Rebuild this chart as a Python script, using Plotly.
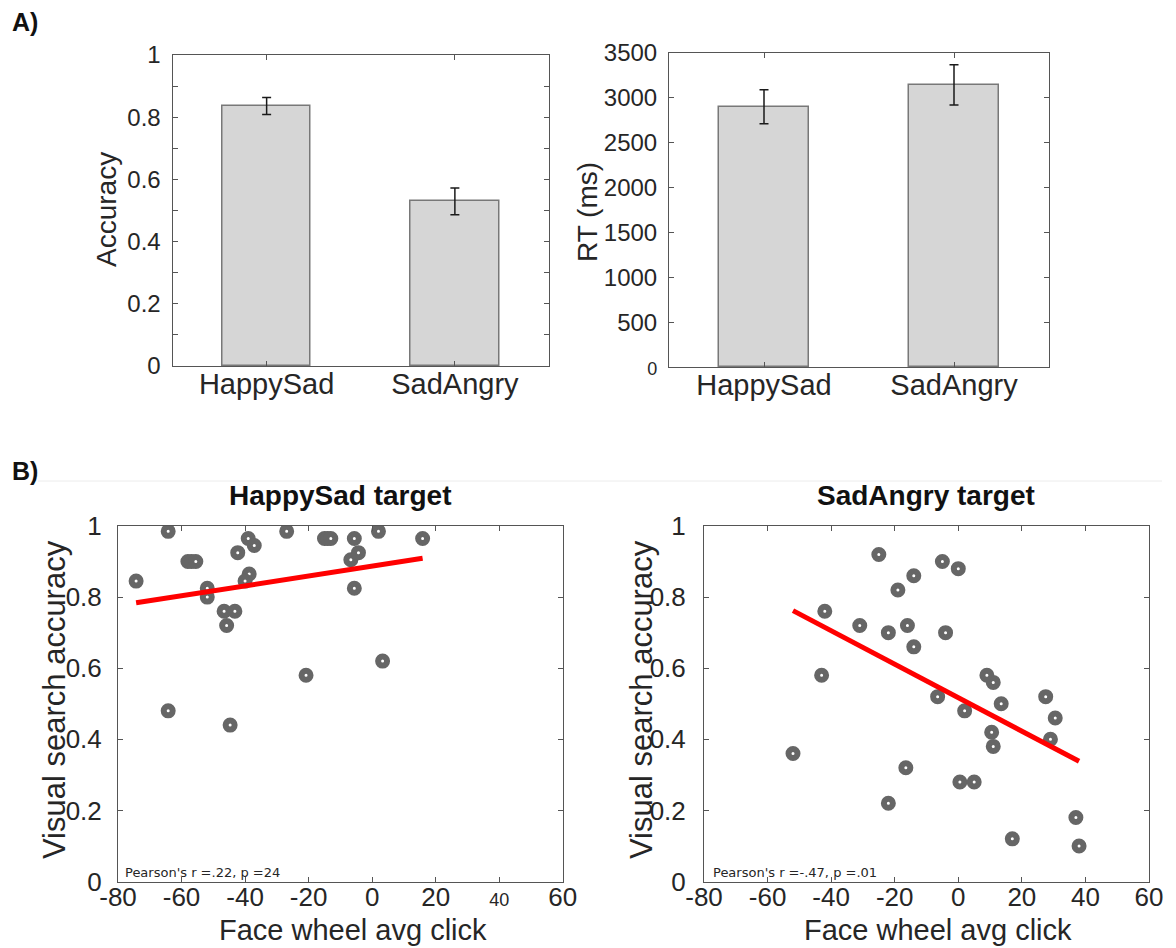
import plotly.graph_objects as go

# ---- data -------------------------------------------------------------
conditions = ["HappySad", "SadAngry"]
accuracy_mean = [0.836, 0.529]
accuracy_err = [0.027, 0.043]
rt_mean = [2900, 3145]
rt_err = [190, 225]

# HappySad target: face wheel avg click vs visual search accuracy
hs_click = [-74.3, -64.2, -58.0, -56.8, -55.5, -51.9, -51.9, -46.6, -43.2, -45.8,
            -44.7, -42.3, -39.0, -37.1, -38.7, -40.0, -64.2, -26.9, -20.8, -15.0,
            -14.0, -13.0, -6.7, -5.6, -4.3, -5.6, 2.0, 3.3, 15.9]
hs_acc = [0.845, 0.985, 0.90, 0.90, 0.90, 0.825, 0.80, 0.76, 0.76, 0.72,
          0.44, 0.925, 0.965, 0.945, 0.865, 0.845, 0.48, 0.985, 0.58, 0.965,
          0.965, 0.965, 0.905, 0.965, 0.925, 0.825, 0.985, 0.62, 0.965]
hs_fit = {"intercept": 0.887, "slope": 0.001385}
hs_stats = "Pearson's r =.22, p =24"

# SadAngry target
sa_click = [-52.0, -43.0, -42.0, -31.0, -25.0, -22.0, -22.0, -19.0, -16.5, -16.0,
            -14.0, -14.0, -6.5, -5.0, -4.0, 0.0, 0.5, 2.0, 5.0, 9.0,
            10.5, 11.0, 11.0, 13.5, 17.0, 27.5, 29.0, 30.5, 37.0, 38.0]
sa_acc = [0.36, 0.58, 0.76, 0.72, 0.92, 0.70, 0.22, 0.82, 0.32, 0.72,
          0.86, 0.66, 0.52, 0.90, 0.70, 0.88, 0.28, 0.48, 0.28, 0.58,
          0.42, 0.56, 0.38, 0.50, 0.12, 0.52, 0.40, 0.46, 0.18, 0.10]
sa_fit = {"intercept": 0.517, "slope": -0.00471}
sa_stats = "Pearson's r =-.47, p =.01"

click_ticks = [-80, -60, -40, -20, 0, 20, 40, 60]
acc_ticks = [0, 0.2, 0.4, 0.6, 0.8, 1]
rt_ticks = [0, 500, 1000, 1500, 2000, 2500, 3000, 3500]

# ---- styling ----------------------------------------------------------
W, H = 1176, 948
FONT = "Liberation Sans, Arial, Helvetica, sans-serif"
AXIS_COL = "#555555"
TEXT_COL = "#262626"
BAR_FILL = "#d6d6d6"
BAR_EDGE = "#787878"
DOT_COL = "#666666"


def px_x(v):
    return v / W


def px_y(v):
    return 1 - v / H


def box_axis(domain, **kw):
    base = dict(domain=domain, showline=True, linecolor=AXIS_COL, linewidth=1,
                mirror="ticks", ticks="inside", ticklen=5, tickcolor=AXIS_COL,
                showgrid=False, zeroline=False, automargin=False,
                tickfont=dict(family=FONT, size=24, color=TEXT_COL))
    base.update(kw)
    return base


def fmt(v):
    return f"{v:g}"


fig = go.Figure()

# ---- A) bar charts ----------------------------------------------------
for vals, errs, xa, ya in [(accuracy_mean, accuracy_err, "x", "y"),
                           (rt_mean, rt_err, "x2", "y2")]:
    fig.add_trace(go.Bar(
        x=[1, 2], y=vals, width=0.47, xaxis=xa, yaxis=ya,
        marker=dict(color=BAR_FILL, line=dict(color=BAR_EDGE, width=1.5)),
        error_y=dict(type="data", array=errs, color="#1a1a1a", thickness=1.5, width=4.5),
        showlegend=False, hoverinfo="skip"))

# ---- B) scatter panels ------------------------------------------------
for xs, ys, fit, xa, ya in [(hs_click, hs_acc, hs_fit, "x3", "y3"),
                            (sa_click, sa_acc, sa_fit, "x4", "y4")]:
    fig.add_trace(go.Scatter(
        x=xs, y=ys, mode="markers", xaxis=xa, yaxis=ya,
        marker=dict(symbol="circle", size=9, color="white",
                    line=dict(color=DOT_COL, width=6)),
        showlegend=False, hoverinfo="skip"))
    x0, x1 = min(xs), max(xs)
    fig.add_trace(go.Scatter(
        x=[x0, x1], y=[fit["intercept"] + fit["slope"] * x0,
                       fit["intercept"] + fit["slope"] * x1],
        mode="lines", xaxis=xa, yaxis=ya,
        line=dict(color="#ff0000", width=5),
        showlegend=False, hoverinfo="skip"))


def small(t):
    return f"<span style='font-size:18px'>{t}</span>"


layout = dict(
    width=W, height=H, margin=dict(l=0, r=0, t=0, b=0),
    paper_bgcolor="white", plot_bgcolor="white",
    font=dict(family=FONT, color=TEXT_COL),
    bargap=0,
    # top-left: accuracy
    xaxis=box_axis([px_x(172.5), px_x(549)], anchor="y", range=[0.5, 2.5],
                   tickvals=[1, 2], ticktext=conditions, ticklabelstandoff=-8,
                   tickfont=dict(family=FONT, size=29, color=TEXT_COL)),
    yaxis=box_axis([px_y(366), px_y(55)], anchor="x", range=[0, 1],
                   tickvals=acc_ticks, ticktext=[fmt(t) for t in acc_ticks],
                   minor=dict(dtick=0.1, ticks="inside", ticklen=5, tickcolor=AXIS_COL),
                   ticklabelstandoff=6),
    # top-right: RT
    xaxis2=box_axis([px_x(669), px_x(1049)], anchor="y2", range=[0.5, 2.5],
                    tickvals=[1, 2], ticktext=conditions, ticklabelstandoff=-8,
                    tickfont=dict(family=FONT, size=29, color=TEXT_COL)),
    yaxis2=box_axis([px_y(367), px_y(53)], anchor="x2", range=[0, 3500],
                    tickvals=rt_ticks,
                    ticktext=[small(fmt(t)) if t == 0 else fmt(t) for t in rt_ticks],
                    ticklabelstandoff=6),
    # bottom-left: HappySad target
    xaxis3=box_axis([px_x(118), px_x(562.7)], anchor="y3", range=[-80, 60],
                    tickvals=click_ticks, ticklabelstandoff=-8,
                    ticktext=[small(fmt(t)) if t == 40 else fmt(t) for t in click_ticks],
                    tickfont=dict(family=FONT, size=26, color=TEXT_COL)),
    yaxis3=box_axis([px_y(881.5), px_y(526)], anchor="x3", range=[0, 1],
                    tickvals=acc_ticks, ticktext=[fmt(t) for t in acc_ticks],
                    tickfont=dict(family=FONT, size=26, color=TEXT_COL),
                    ticklabelstandoff=10),
    # bottom-right: SadAngry target
    xaxis4=box_axis([px_x(704), px_x(1149)], anchor="y4", range=[-80, 60],
                    tickvals=click_ticks, ticktext=[fmt(t) for t in click_ticks],
                    ticklabelstandoff=-8,
                    tickfont=dict(family=FONT, size=26, color=TEXT_COL)),
    yaxis4=box_axis([px_y(881.5), px_y(526)], anchor="x4", range=[0, 1],
                    tickvals=acc_ticks, ticktext=[fmt(t) for t in acc_ticks],
                    tickfont=dict(family=FONT, size=26, color=TEXT_COL),
                    ticklabelstandoff=12),
)
fig.update_layout(**layout)


def label(text, x, y, size, angle=0, bold=False, xanchor="center", font=FONT):
    fig.add_annotation(
        text=f"<b>{text}</b>" if bold else text,
        x=px_x(x), y=px_y(y), xref="paper", yref="paper",
        xanchor=xanchor, yanchor="middle", textangle=angle, showarrow=False,
        font=dict(family=font, size=size, color="#111111" if bold else TEXT_COL))


# panel letters
label("A)", 10, 22, 25, bold=True, xanchor="left")
label("B)", 10, 471, 25, bold=True, xanchor="left")

# axis titles
label("Accuracy", 107, 210, 28, angle=-90)
label("RT (ms)", 588, 212, 28, angle=-90)
label("Visual search accuracy", 54, 700, 31, angle=-90)
label("Visual search accuracy", 641, 700, 31, angle=-90)
label("Face wheel avg click", 353, 930, 29)
label("Face wheel avg click", 938, 930, 29)

# scatter titles
label("HappySad target", 340, 495, 28, bold=True)
label("SadAngry target", 926, 495, 28, bold=True)

# correlation notes
label(hs_stats, 123, 872, 13, xanchor="left", font="DejaVu Sans, sans-serif")
label(sa_stats, 711, 872, 13, xanchor="left", font="DejaVu Sans, sans-serif")

# faint rule separating the two rows
fig.add_shape(type="line", xref="paper", yref="paper",
              x0=px_x(38), x1=px_x(1162), y0=px_y(481), y1=px_y(481),
              line=dict(color="#ececec", width=1))

fig.write_html("out.html")
